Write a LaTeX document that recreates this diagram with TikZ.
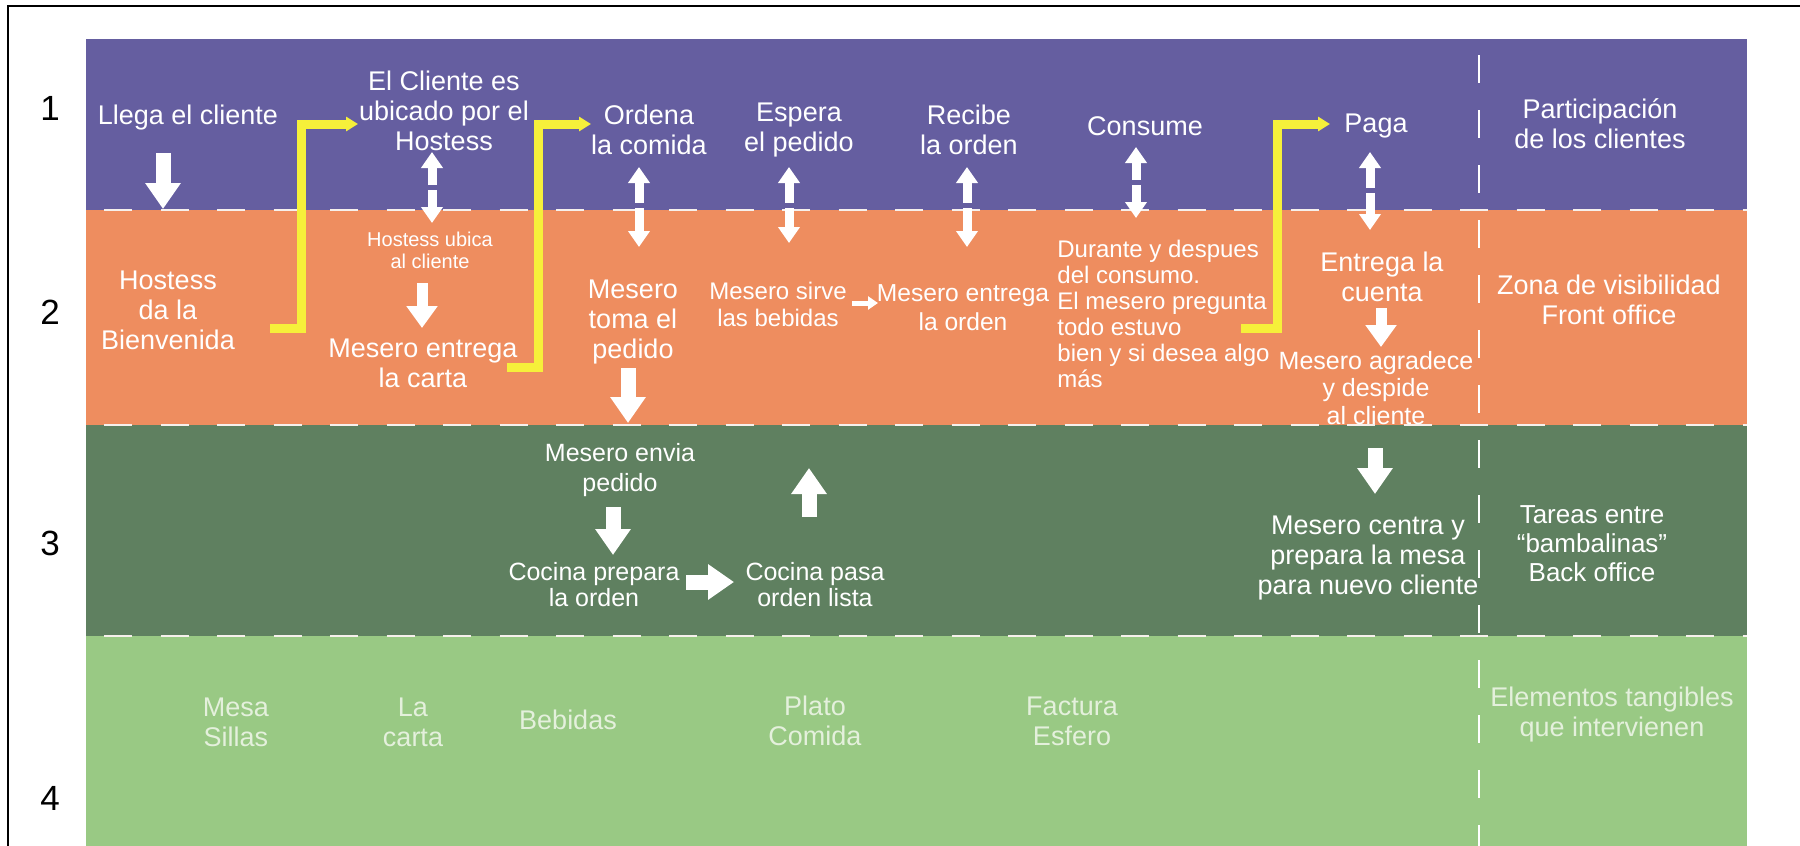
\documentclass[tikz,border=0pt]{standalone}
\usepackage{fontspec}
\setmainfont{Liberation Sans}
\usepackage{tikz}
\usetikzlibrary{arrows.meta}
\definecolor{lila}{RGB}{101,94,160}
\definecolor{naranja}{RGB}{238,141,95}
\definecolor{verdeosc}{RGB}{95,128,96}
\definecolor{verdecla}{RGB}{153,201,132}
\definecolor{amarillo}{RGB}{246,240,58}
\definecolor{palido}{RGB}{228,240,220}
\definecolor{raya}{RGB}{246,240,236}
\newcommand{\fsz}[2]{\fontsize{#1}{#2}\selectfont}

\begin{document}
\begin{tikzpicture}
[x=0.5pt,y=-0.5pt,
txt/.style={text=white,align=center,inner sep=0pt,font=\fsz{13.5pt}{15pt}},
tangible/.style={txt,text=palido},
num/.style={inner sep=0pt,font=\fsz{17.5pt}{20pt}},
sep/.style={draw=raya,line width=1.4pt,dash pattern=on 14pt off 14.25pt,dash phase=19.25pt},
vsep/.style={draw=white,line width=1pt,dash pattern=on 14pt off 13.5pt},
bigarrow/.style={draw=white,line width=7.5pt,-{Triangle[width=17pt,length=13pt]}},
midarrow/.style={draw=white,line width=5.5pt,-{Triangle[width=15pt,length=11pt]}},
split/.style={draw=white,line width=4.5pt,-{Triangle[width=10.5pt,length=8pt]}},
tiny/.style={draw=white,line width=2.5pt,-{Triangle[width=6.5pt,length=5pt]}},
yel/.style={draw=amarillo,line width=4.5pt,-{Triangle[width=7pt,length=6pt]}}]
\useasboundingbox (0,0) rectangle (1800,846);
\clip (0,0) rectangle (1800,846);
\draw[line width=1.2pt] (8,6) rectangle (1815,860);

\fill[lila] (86,39) rectangle (1747,210);
\fill[naranja] (86,210) rectangle (1747,425);
\fill[verdeosc] (86,425) rectangle (1747,636);
\fill[verdecla] (86,636) rectangle (1747,850);

\draw[sep] (86,210) -- (1747,210);
\draw[sep] (86,425) -- (1747,425);
\draw[sep] (86,636) -- (1747,636);
\draw[vsep] (1479,55) -- (1479,850);

\node[num] (n1) at (50,108) {1};
\node[num] (n2) at (50,312) {2};
\node[num] (n3) at (50,543) {3};
\node[num] (n4) at (50,798) {4};

\node[txt] (llega) at (188,118) {Llega el cliente};
\node[txt] (ubicado) at (444,111) {El Cliente es\\ubicado por el\\Hostess};
\node[txt] (ordena) at (649,130) {Ordena\\la comida};
\node[txt] (espera) at (799,130) {Espera\\el pedido};
\node[txt] (recibe) at (969,130) {Recibe\\la orden};
\node[txt] (consume) at (1145,126) {Consume};
\node[txt] (paga) at (1376,126) {Paga};
\node[txt] (particip) at (1600,124) {Participación\\de los clientes};

\node[txt] (bienvenida) at (168,310) {Hostess\\da la\\Bienvenida};
\node[txt,font=\fsz{10pt}{11pt}] (ubica) at (430,250) {Hostess ubica\\al cliente};
\node[txt] (carta) at (423,363) {Mesero entrega\\la carta};
\node[txt] (toma) at (633,322) {Mesero\\toma el\\pedido};
\node[txt,font=\fsz{12pt}{13.5pt}] (sirve) at (778,304) {Mesero sirve\\las bebidas};
\node[txt,font=\fsz{12.3pt}{14.5pt}] (entrega) at (963,308) {Mesero entrega\\la orden};
\node[txt,font=\fsz{12pt}{13pt},align=left,anchor=west] (durante) at (1057,314) {Durante y despues\\del consumo.\\El mesero pregunta\\todo estuvo\\bien y si desea algo\\más};
\node[txt] (cuenta) at (1382,277) {Entrega la\\cuenta};
\node[txt,font=\fsz{12.5pt}{13.75pt}] (agradece) at (1376,388) {Mesero agradece\\y despide\\al cliente};
\node[txt] (zona) at (1609,300) {Zona de visibilidad\\Front office};

\node[txt,font=\fsz{12.5pt}{15pt}] (envia) at (620,470) {Mesero envia\\pedido};
\node[txt,font=\fsz{12.5pt}{13pt}] (prepara) at (594,585) {Cocina prepara\\la orden};
\node[txt,font=\fsz{12.5pt}{13pt}] (pasa) at (815,585) {Cocina pasa\\orden lista};
\node[txt] (centra) at (1368,558) {Mesero centra y\\prepara la mesa\\para nuevo cliente};
\node[txt,font=\fsz{13pt}{14.5pt}] (tareas) at (1592,544) {Tareas entre\\“bambalinas”\\Back office};

\node[tangible] (mesa) at (236,722) {Mesa\\Sillas};
\node[tangible] (lacarta) at (413,722) {La\\carta};
\node[tangible] (bebidas) at (568,720) {Bebidas};
\node[tangible] (plato) at (815,721) {Plato\\Comida};
\node[tangible] (factura) at (1072,721) {Factura\\Esfero};
\node[tangible] (elementos) at (1612,715) {Elementos tangibles\\que intervienen};

\coordinate (y1a) at (270,328);
\coordinate (y1c) at (301,124);
\coordinate (y1b) at (358,124);
\coordinate (y2a) at (507,367);
\coordinate (y2c) at (538,124);
\coordinate (y2b) at (591,124);
\coordinate (y3a) at (1241,328);
\coordinate (y3c) at (1277,124);
\coordinate (y3b) at (1330,124);

\coordinate (b1a) at (163,153);
\coordinate (b1b) at (163,209);
\coordinate (b2a) at (628,368);
\coordinate (b2b) at (628,423);
\coordinate (b3a) at (613,507);
\coordinate (b3b) at (613,555);
\coordinate (b4a) at (809,517);
\coordinate (b4b) at (809,468);
\coordinate (b5a) at (1375,448);
\coordinate (b5b) at (1375,494);
\coordinate (b6a) at (686,582);
\coordinate (b6b) at (734,582);
\coordinate (m1a) at (422,283);
\coordinate (m1b) at (422,328);
\coordinate (m2a) at (1381,308);
\coordinate (m2b) at (1381,347);
\coordinate (t1a) at (852,303);
\coordinate (t1b) at (878,303);

\coordinate (s1u) at (432,185);
\coordinate (s1ut) at (432,152);
\coordinate (s1d) at (432,190);
\coordinate (s1dt) at (432,223);
\coordinate (s2u) at (639,203);
\coordinate (s2ut) at (639,167);
\coordinate (s2d) at (639,208);
\coordinate (s2dt) at (639,247);
\coordinate (s3u) at (789,203);
\coordinate (s3ut) at (789,167);
\coordinate (s3d) at (789,208);
\coordinate (s3dt) at (789,243);
\coordinate (s4u) at (967,203);
\coordinate (s4ut) at (967,167);
\coordinate (s4d) at (967,208);
\coordinate (s4dt) at (967,247);
\coordinate (s5u) at (1136,180);
\coordinate (s5ut) at (1136,147);
\coordinate (s5d) at (1136,185);
\coordinate (s5dt) at (1136,218);
\coordinate (s6u) at (1370,188);
\coordinate (s6ut) at (1370,152);
\coordinate (s6d) at (1370,193);
\coordinate (s6dt) at (1370,230);

\draw [yel] (y1a) -| (y1c) -- (y1b);
\draw [yel] (y2a) -| (y2c) -- (y2b);
\draw [yel] (y3a) -| (y3c) -- (y3b);

\draw [bigarrow] (b1a) -- (b1b);
\draw [bigarrow] (b2a) -- (b2b);
\draw [bigarrow] (b3a) -- (b3b);
\draw [bigarrow] (b4a) -- (b4b);
\draw [bigarrow] (b5a) -- (b5b);
\draw [bigarrow] (b6a) -- (b6b);
\draw [midarrow] (m1a) -- (m1b);
\draw [midarrow] (m2a) -- (m2b);
\draw [tiny] (t1a) -- (t1b);

\draw [split] (s1u) -- (s1ut);
\draw [split] (s1d) -- (s1dt);
\draw [split] (s2u) -- (s2ut);
\draw [split] (s2d) -- (s2dt);
\draw [split] (s3u) -- (s3ut);
\draw [split] (s3d) -- (s3dt);
\draw [split] (s4u) -- (s4ut);
\draw [split] (s4d) -- (s4dt);
\draw [split] (s5u) -- (s5ut);
\draw [split] (s5d) -- (s5dt);
\draw [split] (s6u) -- (s6ut);
\draw [split] (s6d) -- (s6dt);
\end{tikzpicture}
\end{document}
